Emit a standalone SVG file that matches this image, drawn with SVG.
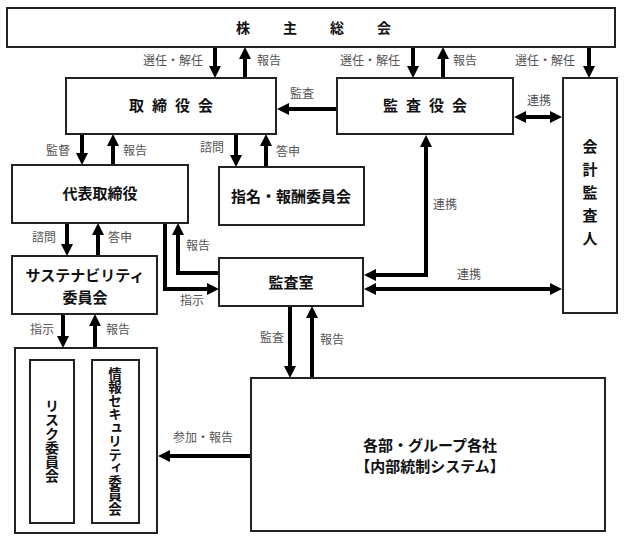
<svg xmlns="http://www.w3.org/2000/svg" width="624" height="541" viewBox="0 0 624 541">
<style>
.box{fill:#fff;stroke:#222;stroke-width:2}
.nt{font-family:"Noto Sans CJK JP","Noto Sans",sans-serif;font-size:15px;font-weight:bold;fill:#111;text-anchor:middle}
.lb{font-family:"Noto Sans CJK JP","Noto Sans",sans-serif;font-size:12px;fill:#555}
.ar{fill:none;stroke:#000;stroke-width:4;marker-end:url(#ah)}
.ar2{fill:none;stroke:#000;stroke-width:4;marker-end:url(#ah);marker-start:url(#ahs)}
.vt{writing-mode:vertical-rl;text-orientation:upright}
</style>
<defs>
<marker id="ah" markerUnits="userSpaceOnUse" markerWidth="12" markerHeight="12" refX="1" refY="6" orient="auto"><path d="M0,0 L12,6 L0,12 z" fill="#000"/></marker>
<marker id="ahs" markerUnits="userSpaceOnUse" markerWidth="12" markerHeight="12" refX="1" refY="6" orient="auto-start-reverse"><path d="M0,0 L12,6 L0,12 z" fill="#000"/></marker>
</defs>
<g id="connectors">
<path class="ar" d="M215,47 V67"/>
<path class="ar" d="M245,78 V58"/>
<path class="ar" d="M413,47 V67"/>
<path class="ar" d="M443,78 V58"/>
<path class="ar" d="M589,47 V67"/>
<path class="ar" d="M337,109 H288"/>
<path class="ar2" d="M525,117 H551"/>
<path class="ar" d="M82,134 V154"/>
<path class="ar" d="M113,165 V145"/>
<path class="ar" d="M236,134 V156"/>
<path class="ar" d="M266,167 V145"/>
<path class="ar" d="M67,223 V245"/>
<path class="ar" d="M98,256 V234"/>
<path class="ar" d="M165,223 V289 H208"/>
<path class="ar" d="M220,273 H178 V234"/>
<path class="ar2" d="M426,146 V275 H375"/>
<path class="ar2" d="M375,289 H551"/>
<path class="ar" d="M63,314 V337"/>
<path class="ar" d="M95,348 V325"/>
<path class="ar" d="M290,306 V367"/>
<path class="ar" d="M312,378 V317"/>
<path class="ar" d="M250,456 H169"/>
<text class="lb" x="143" y="65">選任・解任</text>
<text class="lb" x="257" y="65">報告</text>
<text class="lb" x="340" y="65">選任・解任</text>
<text class="lb" x="453" y="65">報告</text>
<text class="lb" x="515" y="65">選任・解任</text>
<text class="lb" x="290" y="98">監査</text>
<text class="lb" x="527" y="105">連携</text>
<text class="lb" x="46" y="155">監督</text>
<text class="lb" x="123" y="155">報告</text>
<text class="lb" x="200" y="152">諮問</text>
<text class="lb" x="276" y="156">答申</text>
<text class="lb" x="433" y="209">連携</text>
<text class="lb" x="32" y="242">諮問</text>
<text class="lb" x="108" y="242">答申</text>
<text class="lb" x="186" y="250">報告</text>
<text class="lb" x="180" y="305">指示</text>
<text class="lb" x="457" y="279">連携</text>
<text class="lb" x="30" y="334">指示</text>
<text class="lb" x="106" y="334">報告</text>
<text class="lb" x="260" y="342">監査</text>
<text class="lb" x="320" y="344">報告</text>
<text class="lb" x="173" y="442">参加・報告</text>
</g>
<g id="n-shareholders"><rect class="box" x="7" y="8" width="608" height="39"/><text class="nt" x="314" y="33" letter-spacing="33" dx="16" style="font-size:14px">株主総会</text></g>
<g id="n-board"><rect class="box" x="66" y="78" width="210" height="56"/><text class="nt" x="171" y="111" letter-spacing="8" dx="4">取締役会</text></g>
<g id="n-auditboard"><rect class="box" x="337" y="78" width="176" height="56"/><text class="nt" x="425" y="111" letter-spacing="8" dx="4">監査役会</text></g>
<g id="n-accountant"><rect class="box" x="563" y="78" width="54" height="235"/><text class="nt vt" x="590" y="196" letter-spacing="8">会計監査人</text></g>
<g id="n-ceo"><rect class="box" x="12" y="165" width="176" height="58"/><text class="nt" x="100" y="199">代表取締役</text></g>
<g id="n-nomination"><rect class="box" x="219" y="167" width="145" height="58"/><text class="nt" x="291" y="202">指名・報酬委員会</text></g>
<g id="n-sustain"><rect class="box" x="12" y="256" width="145" height="58"/><text class="nt" x="85" y="281">サステナビリティ</text><text class="nt" x="85" y="303">委員会</text></g>
<g id="n-auditoffice"><rect class="box" x="219" y="258" width="144" height="48"/><text class="nt" x="291" y="288">監査室</text></g>
<g id="n-committees"><rect class="box" x="15" y="348" width="142" height="185"/></g>
<g id="n-risk"><rect class="box" x="30" y="360" width="44" height="163"/><text class="nt vt" x="52" y="441" style="font-size:14px">リスク委員会</text></g>
<g id="n-infosec"><rect class="box" x="92" y="360" width="47" height="163"/><text class="nt vt" x="115" y="441" style="font-size:13.5px">情報セキュリティ委員会</text></g>
<g id="n-depts"><rect class="box" x="251" y="378" width="354" height="153"/><text class="nt" x="430" y="451">各部・グループ各社</text><text class="nt" x="430" y="472">【内部統制システム】</text></g>
</svg>
